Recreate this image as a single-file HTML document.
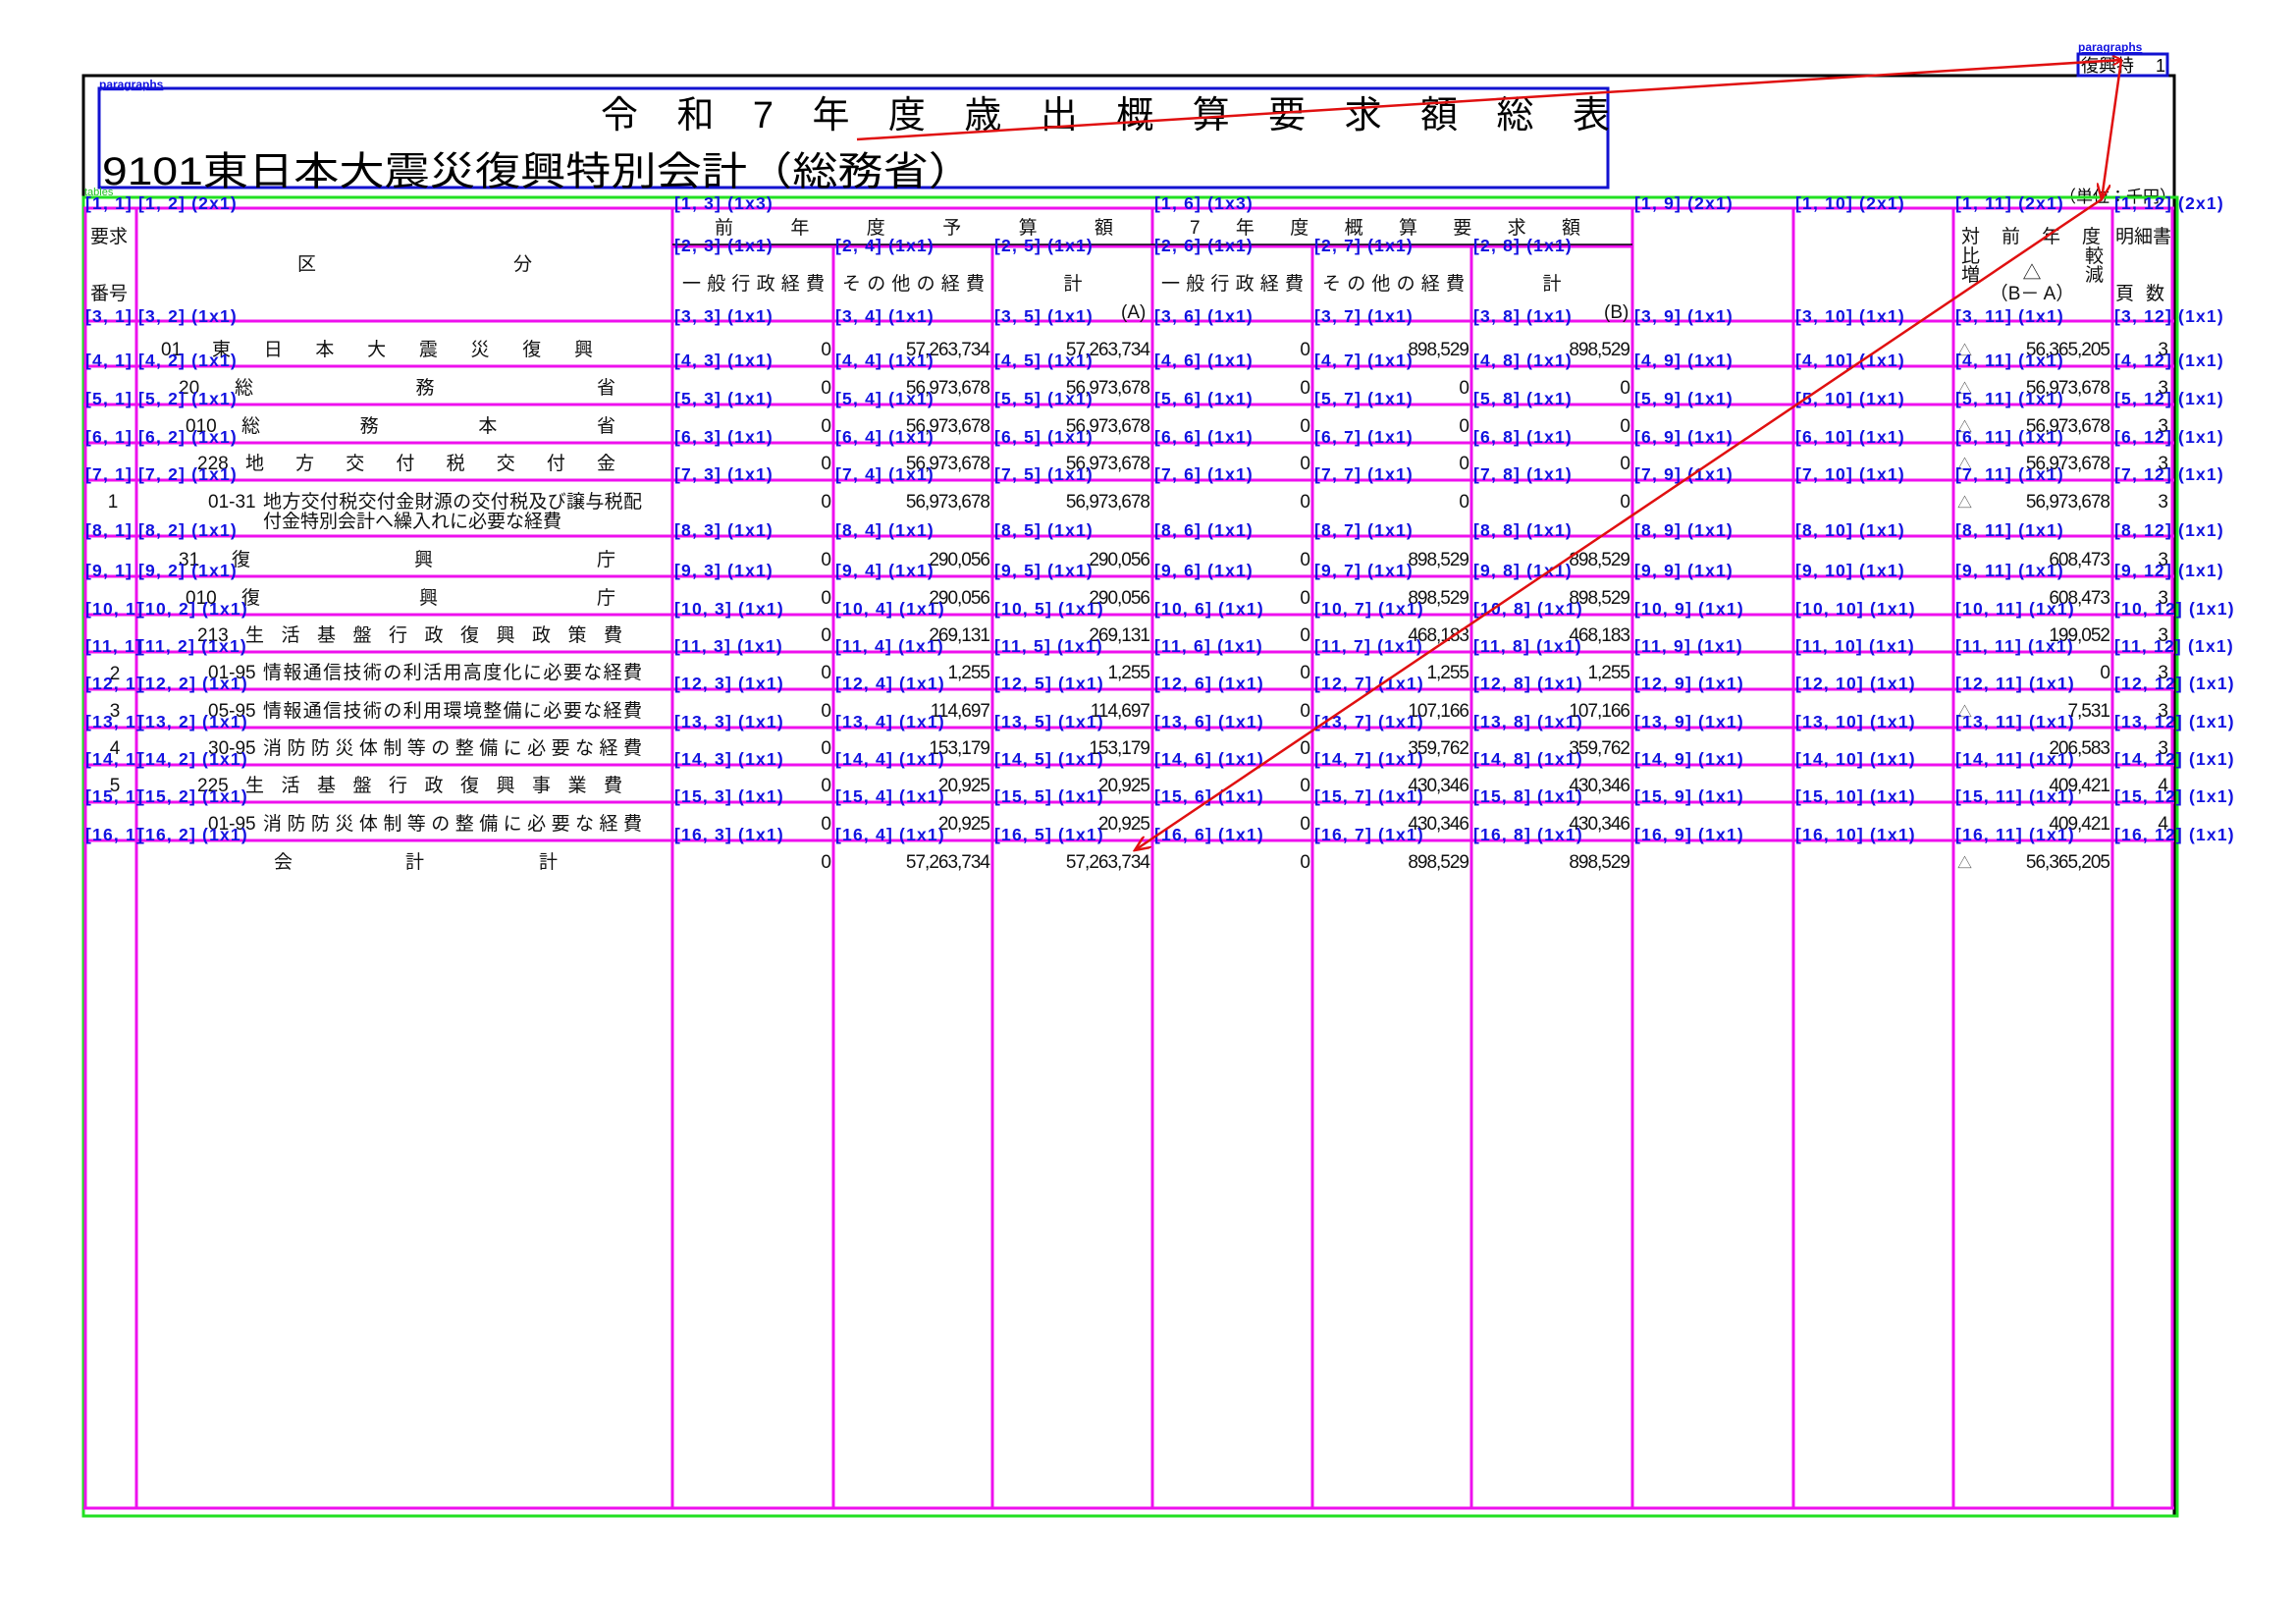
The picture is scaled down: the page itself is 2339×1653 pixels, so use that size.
<!DOCTYPE html>
<html><head><meta charset="utf-8"><style>
html,body{margin:0;padding:0;background:#fff;}
svg{display:block;}
text{font-family:"Liberation Sans","Noto Sans CJK JP",sans-serif;}
.l{fill:#1212e0;font-weight:bold;font-size:17.5px;letter-spacing:1.2px;}
.n{font-size:19px;text-anchor:end;fill:#111;letter-spacing:-1px;}
.t{font-size:19px;fill:#111;}
.c{font-size:19px;fill:#111;text-anchor:middle;}
</style></head><body>
<svg width="2339" height="1653" viewBox="0 0 2339 1653" xmlns="http://www.w3.org/2000/svg">
<defs><marker id="ah" markerWidth="10" markerHeight="10" refX="9" refY="5" orient="auto" markerUnits="userSpaceOnUse"><path d="M0,0 L10,5 L0,10" fill="none" stroke="#e01010" stroke-width="2"/></marker>
<marker id="ah2" markerWidth="18" markerHeight="14" refX="16" refY="7" orient="auto" markerUnits="userSpaceOnUse"><path d="M0,0 L16,7 L0,14" fill="none" stroke="#e01010" stroke-width="2.5"/></marker></defs>
<rect x="85" y="77" width="2130" height="1467" fill="none" stroke="#000" stroke-width="3"/>
<rect x="101" y="90" width="1537" height="101" fill="none" stroke="#1212d0" stroke-width="3"/>
<text x="101" y="90" class="l" style="font-size:12px;letter-spacing:0;text-decoration:underline">paragraphs</text>
<text x="612" y="130" style="font-size:38px" textLength="1028" lengthAdjust="spacing">令和7年度歳出概算要求額総表</text>
<text x="104" y="188" style="font-size:40px" textLength="888" lengthAdjust="spacingAndGlyphs">9101東日本大震災復興特別会計（総務省）</text>
<rect x="2117" y="55" width="91" height="22" fill="none" stroke="#1212d0" stroke-width="3"/>
<text x="2117" y="52" class="l" style="font-size:12px;letter-spacing:0;text-decoration:underline">paragraphs</text>
<text x="2120" y="73" style="font-size:18px">復興特</text><text x="2196" y="73" style="font-size:18px">1</text>
<text x="2098" y="206" style="font-size:17px">（単位：千円）</text>
<rect x="85" y="201" width="2133" height="1343" fill="none" stroke="#22e022" stroke-width="3"/>
<text x="86" y="199" style="font-size:11px;fill:#22c022">tables</text>
<g stroke="#ee10ee" stroke-width="3">
<line x1="85" y1="212" x2="2215" y2="212"/>
<line x1="685" y1="251" x2="1663" y2="251"/>
<line x1="85" y1="327" x2="2215" y2="327"/>
<line x1="85" y1="373" x2="2215" y2="373"/>
<line x1="85" y1="412" x2="2215" y2="412"/>
<line x1="85" y1="451" x2="2215" y2="451"/>
<line x1="85" y1="489" x2="2215" y2="489"/>
<line x1="85" y1="546" x2="2215" y2="546"/>
<line x1="85" y1="587" x2="2215" y2="587"/>
<line x1="85" y1="626" x2="2215" y2="626"/>
<line x1="85" y1="664" x2="2215" y2="664"/>
<line x1="85" y1="702" x2="2215" y2="702"/>
<line x1="85" y1="741" x2="2215" y2="741"/>
<line x1="85" y1="779" x2="2215" y2="779"/>
<line x1="85" y1="817" x2="2215" y2="817"/>
<line x1="85" y1="856" x2="2215" y2="856"/>
<line x1="85" y1="1536" x2="2215" y2="1536"/>
<line x1="87" y1="212" x2="87" y2="1536"/>
<line x1="139" y1="212" x2="139" y2="1536"/>
<line x1="685" y1="212" x2="685" y2="1536"/>
<line x1="849" y1="251" x2="849" y2="1536"/>
<line x1="1011" y1="251" x2="1011" y2="1536"/>
<line x1="1174" y1="212" x2="1174" y2="1536"/>
<line x1="1337" y1="251" x2="1337" y2="1536"/>
<line x1="1499" y1="251" x2="1499" y2="1536"/>
<line x1="1663" y1="212" x2="1663" y2="1536"/>
<line x1="1827" y1="212" x2="1827" y2="1536"/>
<line x1="1990" y1="212" x2="1990" y2="1536"/>
<line x1="2152" y1="212" x2="2152" y2="1536"/>
<line x1="2213" y1="212" x2="2213" y2="1536"/>
</g>
<line x1="685" y1="249" x2="1663" y2="249" stroke="#000" stroke-width="1.5"/>
<text x="92" y="247" class="t">要求</text>
<text x="92" y="305" class="t">番号</text>
<text x="303" y="275" class="t">区</text><text x="523" y="275" class="t">分</text>
<text x="728" y="238" class="t" textLength="406" lengthAdjust="spacing">前年度予算額</text>
<text x="1212" y="238" class="t" textLength="398" lengthAdjust="spacing">7年度概算要求額</text>
<text x="695" y="295" class="t" textLength="145" lengthAdjust="spacing">一般行政経費</text>
<text x="858" y="295" class="t" textLength="145" lengthAdjust="spacing">その他の経費</text>
<text x="1093" y="295" class="c">計</text>
<text x="1142" y="324" class="t">(A)</text>
<text x="1183" y="295" class="t" textLength="145" lengthAdjust="spacing">一般行政経費</text>
<text x="1347" y="295" class="t" textLength="145" lengthAdjust="spacing">その他の経費</text>
<text x="1581" y="295" class="c">計</text>
<text x="1634" y="324" class="t">(B)</text>
<text x="1998" y="247" class="t" textLength="142" lengthAdjust="spacing">対前年度</text>
<text x="1998" y="267" class="t">比</text><text x="1998" y="286" class="t">増</text>
<text x="2124" y="267" class="t">較</text><text x="2124" y="286" class="t">減</text>
<text x="2070" y="284" class="c">△</text>
<text x="2070" y="305" class="c">（B－ A）</text>
<text x="2155" y="247" class="t">明細書</text>
<text x="2155" y="305" class="t" textLength="50" lengthAdjust="spacing">頁数</text>
<g class="c"><text x="115" y="517">1</text><text x="117" y="692">2</text><text x="117" y="730">3</text><text x="117" y="768">4</text><text x="117" y="806">5</text></g>
<g class="t">
<text x="164" y="362">01</text><text x="216" y="362" textLength="388" lengthAdjust="spacing">東日本大震災復興</text>
<text x="182" y="401">20</text><text x="239" y="401" textLength="388" lengthAdjust="spacing">総務省</text>
<text x="189" y="440">010</text><text x="246" y="440" textLength="381" lengthAdjust="spacing">総務本省</text>
<text x="201" y="478">228</text><text x="250" y="478" textLength="377" lengthAdjust="spacing">地方交付税交付金</text>
<text x="212" y="517">01-31</text><text x="268" y="517" textLength="386" lengthAdjust="spacing">地方交付税交付金財源の交付税及び譲与税配</text>
<text x="268" y="537">付金特別会計へ繰入れに必要な経費</text>
<text x="182" y="576">31</text><text x="236" y="576" textLength="391" lengthAdjust="spacing">復興庁</text>
<text x="189" y="615">010</text><text x="246" y="615" textLength="381" lengthAdjust="spacing">復興庁</text>
<text x="201" y="653">213</text><text x="250" y="653" textLength="384" lengthAdjust="spacing">生活基盤行政復興政策費</text>
<text x="212" y="691">01-95</text><text x="268" y="691" textLength="386" lengthAdjust="spacing">情報通信技術の利活用高度化に必要な経費</text>
<text x="212" y="730">05-95</text><text x="268" y="730" textLength="386" lengthAdjust="spacing">情報通信技術の利用環境整備に必要な経費</text>
<text x="212" y="768">30-95</text><text x="268" y="768" textLength="386" lengthAdjust="spacing">消防防災体制等の整備に必要な経費</text>
<text x="201" y="806">225</text><text x="250" y="806" textLength="384" lengthAdjust="spacing">生活基盤行政復興事業費</text>
<text x="212" y="845">01-95</text><text x="268" y="845" textLength="386" lengthAdjust="spacing">消防防災体制等の整備に必要な経費</text>
<text x="279" y="884">会</text><text x="413" y="884">計</text><text x="549" y="884">計</text>
</g>
<g class="n">
<text x="846" y="362">0</text><text x="1008" y="362">57,263,734</text><text x="1171" y="362">57,263,734</text><text x="1334" y="362">0</text><text x="1496" y="362">898,529</text><text x="1660" y="362">898,529</text><text x="2149" y="362">56,365,205</text><text x="2208" y="362">3</text>
<text x="846" y="401">0</text><text x="1008" y="401">56,973,678</text><text x="1171" y="401">56,973,678</text><text x="1334" y="401">0</text><text x="1496" y="401">0</text><text x="1660" y="401">0</text><text x="2149" y="401">56,973,678</text><text x="2208" y="401">3</text>
<text x="846" y="440">0</text><text x="1008" y="440">56,973,678</text><text x="1171" y="440">56,973,678</text><text x="1334" y="440">0</text><text x="1496" y="440">0</text><text x="1660" y="440">0</text><text x="2149" y="440">56,973,678</text><text x="2208" y="440">3</text>
<text x="846" y="478">0</text><text x="1008" y="478">56,973,678</text><text x="1171" y="478">56,973,678</text><text x="1334" y="478">0</text><text x="1496" y="478">0</text><text x="1660" y="478">0</text><text x="2149" y="478">56,973,678</text><text x="2208" y="478">3</text>
<text x="846" y="517">0</text><text x="1008" y="517">56,973,678</text><text x="1171" y="517">56,973,678</text><text x="1334" y="517">0</text><text x="1496" y="517">0</text><text x="1660" y="517">0</text><text x="2149" y="517">56,973,678</text><text x="2208" y="517">3</text>
<text x="846" y="576">0</text><text x="1008" y="576">290,056</text><text x="1171" y="576">290,056</text><text x="1334" y="576">0</text><text x="1496" y="576">898,529</text><text x="1660" y="576">898,529</text><text x="2149" y="576">608,473</text><text x="2208" y="576">3</text>
<text x="846" y="615">0</text><text x="1008" y="615">290,056</text><text x="1171" y="615">290,056</text><text x="1334" y="615">0</text><text x="1496" y="615">898,529</text><text x="1660" y="615">898,529</text><text x="2149" y="615">608,473</text><text x="2208" y="615">3</text>
<text x="846" y="653">0</text><text x="1008" y="653">269,131</text><text x="1171" y="653">269,131</text><text x="1334" y="653">0</text><text x="1496" y="653">468,183</text><text x="1660" y="653">468,183</text><text x="2149" y="653">199,052</text><text x="2208" y="653">3</text>
<text x="846" y="691">0</text><text x="1008" y="691">1,255</text><text x="1171" y="691">1,255</text><text x="1334" y="691">0</text><text x="1496" y="691">1,255</text><text x="1660" y="691">1,255</text><text x="2149" y="691">0</text><text x="2208" y="691">3</text>
<text x="846" y="730">0</text><text x="1008" y="730">114,697</text><text x="1171" y="730">114,697</text><text x="1334" y="730">0</text><text x="1496" y="730">107,166</text><text x="1660" y="730">107,166</text><text x="2149" y="730">7,531</text><text x="2208" y="730">3</text>
<text x="846" y="768">0</text><text x="1008" y="768">153,179</text><text x="1171" y="768">153,179</text><text x="1334" y="768">0</text><text x="1496" y="768">359,762</text><text x="1660" y="768">359,762</text><text x="2149" y="768">206,583</text><text x="2208" y="768">3</text>
<text x="846" y="806">0</text><text x="1008" y="806">20,925</text><text x="1171" y="806">20,925</text><text x="1334" y="806">0</text><text x="1496" y="806">430,346</text><text x="1660" y="806">430,346</text><text x="2149" y="806">409,421</text><text x="2208" y="806">4</text>
<text x="846" y="845">0</text><text x="1008" y="845">20,925</text><text x="1171" y="845">20,925</text><text x="1334" y="845">0</text><text x="1496" y="845">430,346</text><text x="1660" y="845">430,346</text><text x="2149" y="845">409,421</text><text x="2208" y="845">4</text>
<text x="846" y="884">0</text><text x="1008" y="884">57,263,734</text><text x="1171" y="884">57,263,734</text><text x="1334" y="884">0</text><text x="1496" y="884">898,529</text><text x="1660" y="884">898,529</text><text x="2149" y="884">56,365,205</text>
</g>
<g style="font-size:15px;fill:#555"><text x="1994" y="362">△</text><text x="1994" y="401">△</text><text x="1994" y="440">△</text><text x="1994" y="478">△</text><text x="1994" y="517">△</text><text x="1994" y="730">△</text><text x="1994" y="884">△</text></g>
<g class="l">
<text x="87" y="213">[1, 1]</text><text x="141" y="213">[1, 2] (2x1)</text><text x="687" y="213">[1, 3] (1x3)</text><text x="1176" y="213">[1, 6] (1x3)</text><text x="1665" y="213">[1, 9] (2x1)</text><text x="1829" y="213">[1, 10] (2x1)</text><text x="1992" y="213">[1, 11] (2x1)</text><text x="2154" y="213">[1, 12] (2x1)</text>
<text x="687" y="256">[2, 3] (1x1)</text><text x="851" y="256">[2, 4] (1x1)</text><text x="1013" y="256">[2, 5] (1x1)</text><text x="1176" y="256">[2, 6] (1x1)</text><text x="1339" y="256">[2, 7] (1x1)</text><text x="1501" y="256">[2, 8] (1x1)</text>
<text x="87" y="328">[3, 1]</text><text x="141" y="328">[3, 2] (1x1)</text><text x="687" y="328">[3, 3] (1x1)</text><text x="851" y="328">[3, 4] (1x1)</text><text x="1013" y="328">[3, 5] (1x1)</text><text x="1176" y="328">[3, 6] (1x1)</text><text x="1339" y="328">[3, 7] (1x1)</text><text x="1501" y="328">[3, 8] (1x1)</text><text x="1665" y="328">[3, 9] (1x1)</text><text x="1829" y="328">[3, 10] (1x1)</text><text x="1992" y="328">[3, 11] (1x1)</text><text x="2154" y="328">[3, 12] (1x1)</text>
<text x="87" y="373">[4, 1]</text><text x="141" y="373">[4, 2] (1x1)</text><text x="687" y="373">[4, 3] (1x1)</text><text x="851" y="373">[4, 4] (1x1)</text><text x="1013" y="373">[4, 5] (1x1)</text><text x="1176" y="373">[4, 6] (1x1)</text><text x="1339" y="373">[4, 7] (1x1)</text><text x="1501" y="373">[4, 8] (1x1)</text><text x="1665" y="373">[4, 9] (1x1)</text><text x="1829" y="373">[4, 10] (1x1)</text><text x="1992" y="373">[4, 11] (1x1)</text><text x="2154" y="373">[4, 12] (1x1)</text>
<text x="87" y="412">[5, 1]</text><text x="141" y="412">[5, 2] (1x1)</text><text x="687" y="412">[5, 3] (1x1)</text><text x="851" y="412">[5, 4] (1x1)</text><text x="1013" y="412">[5, 5] (1x1)</text><text x="1176" y="412">[5, 6] (1x1)</text><text x="1339" y="412">[5, 7] (1x1)</text><text x="1501" y="412">[5, 8] (1x1)</text><text x="1665" y="412">[5, 9] (1x1)</text><text x="1829" y="412">[5, 10] (1x1)</text><text x="1992" y="412">[5, 11] (1x1)</text><text x="2154" y="412">[5, 12] (1x1)</text>
<text x="87" y="451">[6, 1]</text><text x="141" y="451">[6, 2] (1x1)</text><text x="687" y="451">[6, 3] (1x1)</text><text x="851" y="451">[6, 4] (1x1)</text><text x="1013" y="451">[6, 5] (1x1)</text><text x="1176" y="451">[6, 6] (1x1)</text><text x="1339" y="451">[6, 7] (1x1)</text><text x="1501" y="451">[6, 8] (1x1)</text><text x="1665" y="451">[6, 9] (1x1)</text><text x="1829" y="451">[6, 10] (1x1)</text><text x="1992" y="451">[6, 11] (1x1)</text><text x="2154" y="451">[6, 12] (1x1)</text>
<text x="87" y="489">[7, 1]</text><text x="141" y="489">[7, 2] (1x1)</text><text x="687" y="489">[7, 3] (1x1)</text><text x="851" y="489">[7, 4] (1x1)</text><text x="1013" y="489">[7, 5] (1x1)</text><text x="1176" y="489">[7, 6] (1x1)</text><text x="1339" y="489">[7, 7] (1x1)</text><text x="1501" y="489">[7, 8] (1x1)</text><text x="1665" y="489">[7, 9] (1x1)</text><text x="1829" y="489">[7, 10] (1x1)</text><text x="1992" y="489">[7, 11] (1x1)</text><text x="2154" y="489">[7, 12] (1x1)</text>
<text x="87" y="546">[8, 1]</text><text x="141" y="546">[8, 2] (1x1)</text><text x="687" y="546">[8, 3] (1x1)</text><text x="851" y="546">[8, 4] (1x1)</text><text x="1013" y="546">[8, 5] (1x1)</text><text x="1176" y="546">[8, 6] (1x1)</text><text x="1339" y="546">[8, 7] (1x1)</text><text x="1501" y="546">[8, 8] (1x1)</text><text x="1665" y="546">[8, 9] (1x1)</text><text x="1829" y="546">[8, 10] (1x1)</text><text x="1992" y="546">[8, 11] (1x1)</text><text x="2154" y="546">[8, 12] (1x1)</text>
<text x="87" y="587">[9, 1]</text><text x="141" y="587">[9, 2] (1x1)</text><text x="687" y="587">[9, 3] (1x1)</text><text x="851" y="587">[9, 4] (1x1)</text><text x="1013" y="587">[9, 5] (1x1)</text><text x="1176" y="587">[9, 6] (1x1)</text><text x="1339" y="587">[9, 7] (1x1)</text><text x="1501" y="587">[9, 8] (1x1)</text><text x="1665" y="587">[9, 9] (1x1)</text><text x="1829" y="587">[9, 10] (1x1)</text><text x="1992" y="587">[9, 11] (1x1)</text><text x="2154" y="587">[9, 12] (1x1)</text>
<text x="87" y="626">[10, 1]</text><text x="141" y="626">[10, 2] (1x1)</text><text x="687" y="626">[10, 3] (1x1)</text><text x="851" y="626">[10, 4] (1x1)</text><text x="1013" y="626">[10, 5] (1x1)</text><text x="1176" y="626">[10, 6] (1x1)</text><text x="1339" y="626">[10, 7] (1x1)</text><text x="1501" y="626">[10, 8] (1x1)</text><text x="1665" y="626">[10, 9] (1x1)</text><text x="1829" y="626">[10, 10] (1x1)</text><text x="1992" y="626">[10, 11] (1x1)</text><text x="2154" y="626">[10, 12] (1x1)</text>
<text x="87" y="664">[11, 1]</text><text x="141" y="664">[11, 2] (1x1)</text><text x="687" y="664">[11, 3] (1x1)</text><text x="851" y="664">[11, 4] (1x1)</text><text x="1013" y="664">[11, 5] (1x1)</text><text x="1176" y="664">[11, 6] (1x1)</text><text x="1339" y="664">[11, 7] (1x1)</text><text x="1501" y="664">[11, 8] (1x1)</text><text x="1665" y="664">[11, 9] (1x1)</text><text x="1829" y="664">[11, 10] (1x1)</text><text x="1992" y="664">[11, 11] (1x1)</text><text x="2154" y="664">[11, 12] (1x1)</text>
<text x="87" y="702">[12, 1]</text><text x="141" y="702">[12, 2] (1x1)</text><text x="687" y="702">[12, 3] (1x1)</text><text x="851" y="702">[12, 4] (1x1)</text><text x="1013" y="702">[12, 5] (1x1)</text><text x="1176" y="702">[12, 6] (1x1)</text><text x="1339" y="702">[12, 7] (1x1)</text><text x="1501" y="702">[12, 8] (1x1)</text><text x="1665" y="702">[12, 9] (1x1)</text><text x="1829" y="702">[12, 10] (1x1)</text><text x="1992" y="702">[12, 11] (1x1)</text><text x="2154" y="702">[12, 12] (1x1)</text>
<text x="87" y="741">[13, 1]</text><text x="141" y="741">[13, 2] (1x1)</text><text x="687" y="741">[13, 3] (1x1)</text><text x="851" y="741">[13, 4] (1x1)</text><text x="1013" y="741">[13, 5] (1x1)</text><text x="1176" y="741">[13, 6] (1x1)</text><text x="1339" y="741">[13, 7] (1x1)</text><text x="1501" y="741">[13, 8] (1x1)</text><text x="1665" y="741">[13, 9] (1x1)</text><text x="1829" y="741">[13, 10] (1x1)</text><text x="1992" y="741">[13, 11] (1x1)</text><text x="2154" y="741">[13, 12] (1x1)</text>
<text x="87" y="779">[14, 1]</text><text x="141" y="779">[14, 2] (1x1)</text><text x="687" y="779">[14, 3] (1x1)</text><text x="851" y="779">[14, 4] (1x1)</text><text x="1013" y="779">[14, 5] (1x1)</text><text x="1176" y="779">[14, 6] (1x1)</text><text x="1339" y="779">[14, 7] (1x1)</text><text x="1501" y="779">[14, 8] (1x1)</text><text x="1665" y="779">[14, 9] (1x1)</text><text x="1829" y="779">[14, 10] (1x1)</text><text x="1992" y="779">[14, 11] (1x1)</text><text x="2154" y="779">[14, 12] (1x1)</text>
<text x="87" y="817">[15, 1]</text><text x="141" y="817">[15, 2] (1x1)</text><text x="687" y="817">[15, 3] (1x1)</text><text x="851" y="817">[15, 4] (1x1)</text><text x="1013" y="817">[15, 5] (1x1)</text><text x="1176" y="817">[15, 6] (1x1)</text><text x="1339" y="817">[15, 7] (1x1)</text><text x="1501" y="817">[15, 8] (1x1)</text><text x="1665" y="817">[15, 9] (1x1)</text><text x="1829" y="817">[15, 10] (1x1)</text><text x="1992" y="817">[15, 11] (1x1)</text><text x="2154" y="817">[15, 12] (1x1)</text>
<text x="87" y="856">[16, 1]</text><text x="141" y="856">[16, 2] (1x1)</text><text x="687" y="856">[16, 3] (1x1)</text><text x="851" y="856">[16, 4] (1x1)</text><text x="1013" y="856">[16, 5] (1x1)</text><text x="1176" y="856">[16, 6] (1x1)</text><text x="1339" y="856">[16, 7] (1x1)</text><text x="1501" y="856">[16, 8] (1x1)</text><text x="1665" y="856">[16, 9] (1x1)</text><text x="1829" y="856">[16, 10] (1x1)</text><text x="1992" y="856">[16, 11] (1x1)</text><text x="2154" y="856">[16, 12] (1x1)</text>
</g>
<g stroke="#e01010" stroke-width="2.5" fill="none">
<line x1="873" y1="142" x2="2161" y2="61" marker-end="url(#ah)"/>
<line x1="2161" y1="61" x2="2141" y2="203" marker-end="url(#ah2)"/>
<line x1="2141" y1="203" x2="1156" y2="866" marker-end="url(#ah2)"/>
</g>
</svg>
</body></html>
